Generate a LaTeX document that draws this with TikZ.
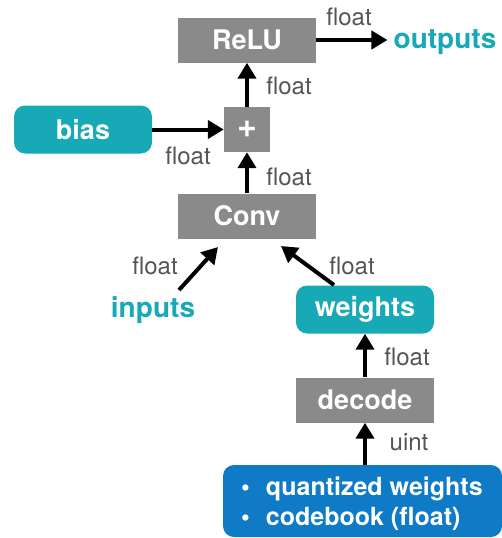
\documentclass[tikz,border=0pt]{standalone}
\usepackage{fontspec}
\setmainfont{TeX Gyre Heros}
\usetikzlibrary{arrows.meta}
\definecolor{boxgray}{HTML}{8A8A8A}
\definecolor{tealc}{HTML}{17A9B5}
\definecolor{bluec}{HTML}{0F7BC6}
\definecolor{labgray}{HTML}{555555}
\tikzset{
  graybox/.style={fill=boxgray, text=white, font=\fontsize{27}{30}\selectfont\bfseries, minimum width=138pt, minimum height=45pt, inner sep=0pt},
  tealbox/.style={fill=tealc, text=white, font=\fontsize{27}{30}\selectfont\bfseries, minimum width=138pt, minimum height=48pt, rounded corners=11pt, inner sep=0pt},
  tealtext/.style={text=tealc, font=\fontsize{28}{30}\selectfont\bfseries, inner sep=0pt},
  lab/.style={text=labgray, font=\fontsize{24}{26}\selectfont, inner sep=0pt},
  flow/.style={line width=4pt, -{Triangle[length=16pt,width=18pt]}},
}
\begin{document}
\begin{tikzpicture}[x=1pt,y=-1pt]
\useasboundingbox (0,0) rectangle (502,538);
\node[graybox] (relu) at (247,40) {ReLU};
\node[graybox, minimum width=46pt, font=\fontsize{34}{34}\selectfont\bfseries] (plus) at (247,129.5) {+};
\node[tealbox] (bias) at (83,129.5) {bias};
\node[graybox] (conv) at (247,216) {Conv};
\node[tealtext] (inputs) at (153,310) {inputs};
\node[tealbox] (weights) at (365,309.5) {weights};
\node[graybox] (decode) at (365,400) {decode};
\node[tealtext] (outputs) at (445,42) {outputs};
\node[fill=bluec, rounded corners=11pt, minimum width=279pt, minimum height=72pt, inner sep=0pt] (quant) at (362.5,501) {};
\node[text=white, font=\fontsize{25}{30}\selectfont\bfseries, anchor=west, align=left, inner sep=0pt] (qtext) at (241,504)
  {\textbullet\hspace{16pt}quantized weights\\\textbullet\hspace{16pt}codebook (float)};

\coordinate (inA) at (179,290);
\coordinate (convA) at (218,247);
\coordinate (wA) at (334,285);
\coordinate (convB) at (281,246);

\draw[flow, shorten >=6pt] (relu.east) -- (relu.east -| outputs.west);
\draw[flow] (plus.north) -- (relu.south);
\draw[flow] (bias.east) -- (plus.west);
\draw[flow] (conv.north) -- (plus.south);
\draw[flow] (inA) -- (convA);
\draw[flow] (wA) -- (convB);
\draw[flow] (decode.north) -- (weights.south);
\draw[flow] (quant.north -| decode) -- (decode.south);

\node[lab] (l1) at (349,17) {float};
\node[lab] (l2) at (289,86) {float};
\node[lab] (l3) at (188,156) {float};
\node[lab] (l4) at (289,177) {float};
\node[lab] (l5) at (155,266) {float};
\node[lab] (l6) at (352,266) {float};
\node[lab] (l7) at (407,357) {float};
\node[lab] (l8) at (409,442) {uint};
\end{tikzpicture}
\end{document}
